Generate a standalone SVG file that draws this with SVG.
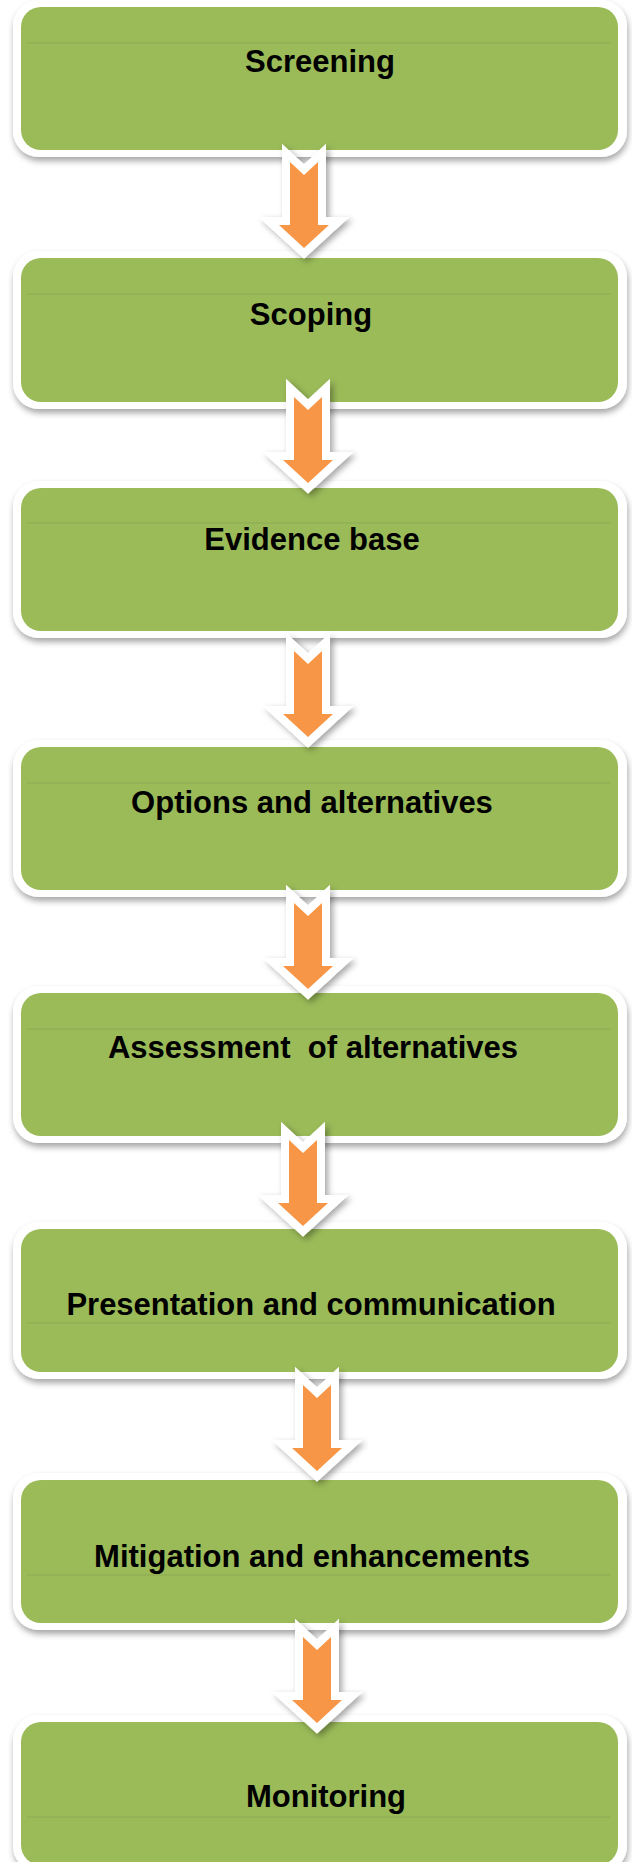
<svg xmlns="http://www.w3.org/2000/svg" width="632" height="1862" viewBox="0 0 632 1862">
<style>
.frame{fill:#ffffff;filter:url(#boxShadow);}
.box{fill:#9BBB59;}
.div{stroke:#8CA955;stroke-width:1;}
.lbl{font-family:"Liberation Sans",Arial,sans-serif;font-weight:bold;font-size:31px;fill:#000000;text-anchor:middle;}
.arr{fill:#F79646;stroke:#ffffff;stroke-width:16;stroke-linejoin:miter;stroke-miterlimit:6;paint-order:stroke;}
</style>
<defs>
<filter id="boxShadow" x="-5%" y="-10%" width="110%" height="125%">
<feDropShadow dx="1" dy="4" stdDeviation="3" flood-color="#000000" flood-opacity="0.35"/>
</filter>
<filter id="arrShadow" x="-40%" y="-20%" width="180%" height="140%">
<feDropShadow dx="3" dy="3" stdDeviation="3" flood-color="#000000" flood-opacity="0.35"/>
</filter>
<path id="arrow" d="M-14,0 L0,13 L14,0 L14,63 L25,63 L0,86 L-25,63 L-14,63 Z"/>
</defs>
<rect width="632" height="1862" fill="#ffffff"/>

<g id="node-screening">
<rect class="frame" x="13" y="0" width="614" height="157" rx="26"/>
<rect class="box" x="21" y="7" width="597" height="143" rx="20"/>
<line class="div" x1="27" y1="43" x2="611" y2="43"/>
<text class="lbl" x="320" y="72">Screening</text>
</g>

<g id="node-scoping">
<rect class="frame" x="13" y="251" width="614" height="158" rx="26"/>
<rect class="box" x="21" y="258" width="597" height="144" rx="20"/>
<line class="div" x1="27" y1="294" x2="611" y2="294"/>
<text class="lbl" x="311" y="325">Scoping</text>
</g>

<g id="node-evidence">
<rect class="frame" x="13" y="481" width="614" height="157" rx="26"/>
<rect class="box" x="21" y="488" width="597" height="143" rx="20"/>
<line class="div" x1="27" y1="523" x2="611" y2="523"/>
<text class="lbl" x="312" y="550">Evidence base</text>
</g>

<g id="node-options">
<rect class="frame" x="13" y="740" width="614" height="157" rx="26"/>
<rect class="box" x="21" y="747" width="597" height="143" rx="20"/>
<line class="div" x1="27" y1="783" x2="611" y2="783"/>
<text class="lbl" x="312" y="813">Options and alternatives</text>
</g>

<g id="node-assessment">
<rect class="frame" x="13" y="986" width="614" height="157" rx="26"/>
<rect class="box" x="21" y="993" width="597" height="143" rx="20"/>
<line class="div" x1="27" y1="1029" x2="611" y2="1029"/>
<text class="lbl" x="313" y="1058" xml:space="preserve">Assessment  of alternatives</text>
</g>

<g id="node-presentation">
<rect class="frame" x="13" y="1222" width="614" height="157" rx="26"/>
<rect class="box" x="21" y="1229" width="597" height="143" rx="20"/>
<line class="div" x1="27" y1="1323" x2="611" y2="1323"/>
<text class="lbl" x="311" y="1315">Presentation and communication</text>
</g>

<g id="node-mitigation">
<rect class="frame" x="13" y="1473" width="614" height="157" rx="26"/>
<rect class="box" x="21" y="1480" width="597" height="143" rx="20"/>
<line class="div" x1="27" y1="1575" x2="611" y2="1575"/>
<text class="lbl" x="312" y="1567">Mitigation and enhancements</text>
</g>

<g id="node-monitoring">
<rect class="frame" x="13" y="1715" width="614" height="157" rx="26"/>
<rect class="box" x="21" y="1722" width="597" height="143" rx="20"/>
<line class="div" x1="27" y1="1817" x2="611" y2="1817"/>
<text class="lbl" x="326" y="1807">Monitoring</text>
</g>

<g id="connectors" filter="url(#arrShadow)">
<use href="#arrow" class="arr" transform="translate(304,162)"/>
<use href="#arrow" class="arr" transform="translate(308,397)"/>
<use href="#arrow" class="arr" transform="translate(308,651)"/>
<use href="#arrow" class="arr" transform="translate(308,903)"/>
<use href="#arrow" class="arr" transform="translate(303,1140)"/>
<use href="#arrow" class="arr" transform="translate(317,1385)"/>
<use href="#arrow" class="arr" transform="translate(317,1637)"/>
</g>
</svg>
